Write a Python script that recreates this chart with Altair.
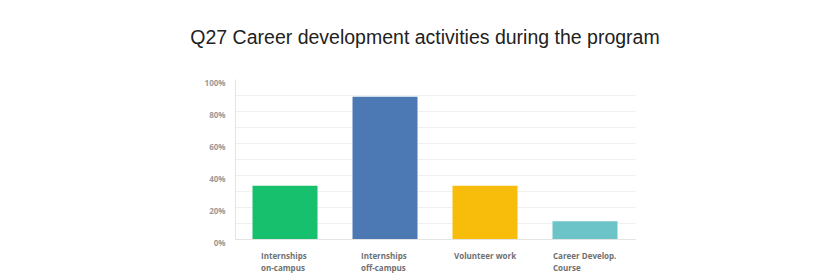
import altair as alt
import pandas as pd

categories = ["Internships\non-campus", "Internships\noff-campus", "Volunteer work", "Career Develop.\nCourse"]
values = [33.3, 88.9, 33.3, 11.1]
colors = ["#17c06c", "#4c79b4", "#f8bc0a", "#6cc4c8"]
y_ticks = [0, 10, 20, 30, 40, 50, 60, 70, 80, 90, 100]

df = pd.DataFrame({"cat": categories, "val": values, "col": colors})

label_offset = {
    "condition": [
        {"test": "datum.value == 'Volunteer work'", "value": -31},
        {"test": "indexof(datum.value, 'Career') >= 0", "value": -32},
    ],
    "value": -24,
}

chart = alt.Chart(df).mark_bar().encode(
    x=alt.X("cat:N", sort=categories, title=None,
            scale=alt.Scale(paddingInner=0.35, paddingOuter=0.175),
            axis=alt.Axis(labelAngle=0, ticks=False, domainColor="#e4e4e4",
                          labelFont="Open Sans", labelFontWeight="bold", labelFontSize=8,
                          labelColor="#707070", labelPadding=13, labelLineHeight=12,
                          labelAlign="left", labelOffset=label_offset,
                          labelExpr="split(datum.label, '\\n')")),
    y=alt.Y("val:Q", title=None, scale=alt.Scale(domain=[0, 100]),
            axis=alt.Axis(values=y_ticks, ticks=False, domainColor="#e4e4e4",
                          gridColor={"condition": {"test": "datum.value == 100", "value": "transparent"},
                                     "value": "#f0f0f0"},
                          labelFont="Open Sans", labelFontWeight="bold",
                          labelFontSize=8, labelColor="#999999", labelPadding=10, labelOffset=4,
                          labelExpr="datum.value % 20 == 0 ? datum.value + '%' : ''")),
    color=alt.Color("col:N", scale=None),
).properties(
    width=400,
    height=160,
    autosize=alt.AutoSizeParams(type="none"),
    padding={"left": 227, "top": 71, "right": 173, "bottom": 40},
    title=alt.TitleParams("Q27 Career development activities during the program",
                          font="Liberation Sans", fontSize=19.5, fontWeight="normal",
                          color="#222222", anchor="middle", frame="group", dx=-10,
                          offset=16, baseline="alphabetic"),
).configure(background="white").configure_view(stroke=None)

chart.save("out.html", embed_options={"renderer": "svg", "actions": False})
